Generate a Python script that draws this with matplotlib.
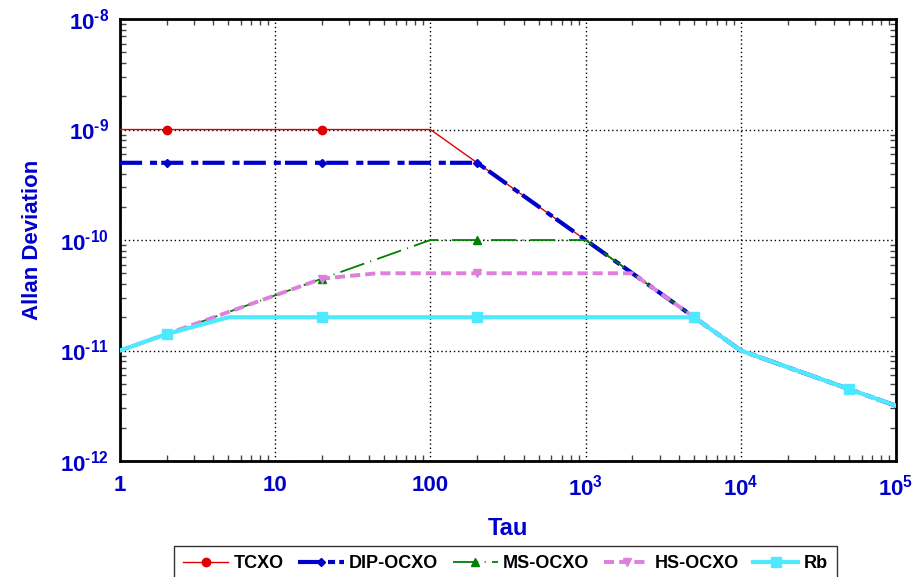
import math
import matplotlib
matplotlib.use("Agg")
import matplotlib.pyplot as plt
from matplotlib.ticker import LogLocator, FuncFormatter, NullFormatter

plt.rcParams['font.family'] = ['Liberation Sans', 'DejaVu Sans']
plt.rcParams['font.weight'] = 'bold'
plt.rcParams['mathtext.fontset'] = 'custom'
plt.rcParams['mathtext.rm'] = 'Liberation Sans:bold'
plt.rcParams['mathtext.bf'] = 'Liberation Sans:bold'
plt.rcParams['mathtext.it'] = 'Liberation Sans:bold'

# breakpoints of each curve (tau, allan deviation)
tcxo_tau = [1, 100, 1e3, 5e3, 1e4, 5e4, 1e5]
tcxo_adev = [1e-9, 1e-9, 1e-10, 2e-11, 1e-11, 4.47e-12, 3.16e-12]
tcxo_mk_tau = [2, 20]
tcxo_mk_adev = [1e-9, 1e-9]

dip_tau = [1, 200, 1e3, 5e3, 1e4, 5e4, 1e5]
dip_adev = [5e-10, 5e-10, 1e-10, 2e-11, 1e-11, 4.47e-12, 3.16e-12]
dip_mk_tau = [2, 20, 200]
dip_mk_adev = [5e-10, 5e-10, 5e-10]

ms_tau = [1, 2, 20, 100, 1e3, 5e3, 1e4, 5e4, 1e5]
ms_adev = [1e-11, 1.41e-11, 4.47e-11, 1e-10, 1e-10, 2e-11, 1e-11, 4.47e-12, 3.16e-12]
ms_mk_tau = [2, 20, 200]
ms_mk_adev = [1.41e-11, 4.47e-11, 1e-10]

hs_tau = [1, 2, 20, 45, 2e3, 5e3, 1e4, 5e4, 1e5]
hs_adev = [1e-11, 1.41e-11, 4.47e-11, 5e-11, 5e-11, 2e-11, 1e-11, 4.47e-12, 3.16e-12]
hs_mk_tau = [2, 20, 200]
hs_mk_adev = [1.41e-11, 4.47e-11, 5e-11]

rb_tau = [1, 2, 5, 5e3, 1e4, 5e4, 1e5]
rb_adev = [1e-11, 1.41e-11, 2e-11, 2e-11, 1e-11, 4.47e-12, 3.16e-12]
rb_mk_tau = [2, 20, 200, 5e3, 5e4]
rb_mk_adev = [1.41e-11, 2e-11, 2e-11, 2e-11, 4.47e-12]

x_ticks = [1, 10, 100, 1e3, 1e4, 1e5]
x_labels = ['1', '10', '100', r'$10^{3}$', r'$10^{4}$', r'$10^{5}$']

blue = '#0000cc'

fig = plt.figure(figsize=(9.21, 5.77), dpi=100)
ax = fig.add_axes([0.1303, 0.201, 0.8426, 0.766])

series = [
    ('TCXO', tcxo_tau, tcxo_adev, tcxo_mk_tau, tcxo_mk_adev, '#e00000', 1.0, '-', 'o', 6),
    ('DIP-OCXO', dip_tau, dip_adev, dip_mk_tau, dip_mk_adev, '#0000cc', 3.0, (0, (5.3, 1.9, 1.7, 1.0)), 'D', 4.5),
    ('MS-OCXO', ms_tau, ms_adev, ms_mk_tau, ms_mk_adev, '#007f00', 1.3, (0, (14, 3.5, 0.6, 3.5)), '^', 6),
    ('HS-OCXO', hs_tau, hs_adev, hs_mk_tau, hs_mk_adev, '#dd7fdd', 2.8, (0, (2.6, 1.3)), 'v', 6),
    ('Rb', rb_tau, rb_adev, rb_mk_tau, rb_mk_adev, '#4ee8ff', 3.0, '-', 's', 6.5),
]

handles = []
for name, t, a, mt, ma, col, lw, ls, mk, ms in series:
    ax.plot(t, a, color=col, lw=lw, ls=ls, zorder=3)
    ax.plot(mt, ma, ls='none', marker=mk, color=col, ms=ms, zorder=4)
    h, = ax.plot([], [], color=col, lw=lw, ls=ls, marker=mk, ms=ms)
    handles.append(h)

ax.set_xscale('log')
ax.set_yscale('log')
ax.set_xlim(1, 1e5)
ax.set_ylim(1e-12, 1e-8)

ax.set_xticks(x_ticks)
ax.set_xticklabels(x_labels)
ax.xaxis.set_minor_locator(LogLocator(base=10, subs=range(2, 10), numticks=20))
ax.xaxis.set_minor_formatter(NullFormatter())
ax.yaxis.set_major_locator(LogLocator(base=10, numticks=10))
ax.yaxis.set_major_formatter(FuncFormatter(
    lambda v, p: r'$10^{\text{-}%d}$' % abs(round(math.log10(v)))))
ax.yaxis.set_minor_locator(LogLocator(base=10, subs=range(2, 10), numticks=20))
ax.yaxis.set_minor_formatter(NullFormatter())

ax.grid(True, which='major', color='black', ls=(0, (1, 2)), lw=1.0)
ax.tick_params(which='both', direction='in', top=True, right=True, colors='black',
               labelcolor=blue, labelsize=16)
ax.tick_params(axis='y', which='major', length=0, pad=8)
ax.tick_params(axis='x', which='major', length=0, pad=10)
ax.tick_params(which='minor', length=4, width=1, color='#444444')
for s in ax.spines.values():
    s.set_linewidth(2)

ax.set_xlabel('Tau', color=blue, fontsize=17, fontweight='bold', labelpad=12)
ax.set_ylabel('Allan Deviation', color=blue, fontsize=16, fontweight='bold', labelpad=12)

leg = fig.legend(handles, [s[0] for s in series], loc='upper center',
                 bbox_to_anchor=(0.549, 0.054), ncol=5, fontsize=13,
                 handlelength=2.5, columnspacing=0.8, handletextpad=0.3,
                 fancybox=False, edgecolor='black', borderpad=0.5, borderaxespad=0)
leg.get_frame().set_linewidth(1.0)

fig.savefig('out.png', dpi=100)
